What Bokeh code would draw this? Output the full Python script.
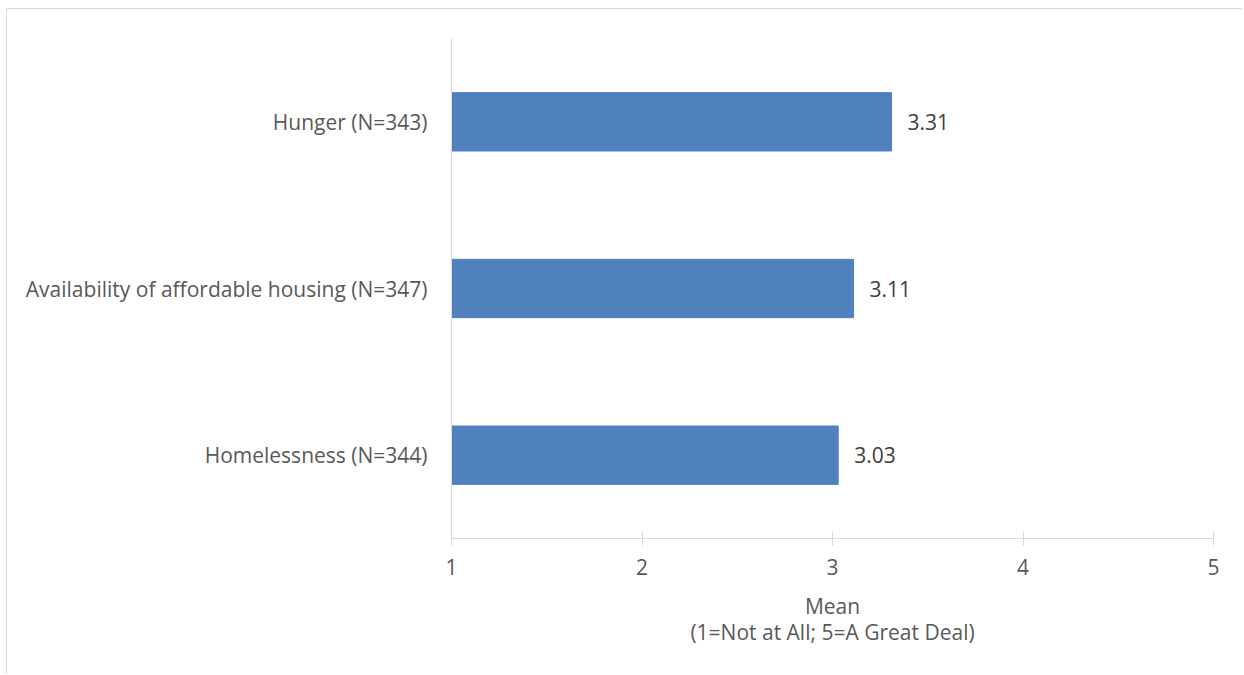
from bokeh.plotting import figure
from bokeh.models import Range1d, FactorRange, ColumnDataSource, FixedTicker
from bokeh.core.properties import value
from bokeh.embed import file_html
from bokeh.resources import INLINE

categories = ["Homelessness (N=344)", "Availability of affordable housing (N=347)", "Hunger (N=343)"]
means = [3.03, 3.11, 3.31]
x_ticks = [1, 2, 3, 4, 5]
x_title_lines = ["Mean", "(1=Not at All; 5=A Great Deal)"]

FONT = "Open Sans"
FS = "21px"
src = ColumnDataSource(dict(cat=categories, val=means, left=[1] * len(means),
                            lbl=[f"{v:.2f}" for v in means]))

p = figure(width=1236, height=666, output_backend="svg", toolbar_location=None,
           x_range=Range1d(1, 5), y_range=FactorRange(*categories))
p.min_border_left = 444
p.min_border_right = 30
p.min_border_top = 29
p.min_border_bottom = 137
p.outline_line_color = None
p.background_fill_color = "white"
p.border_fill_color = "white"
p.styles = {"border-left": "1px solid #d9d9d9", "border-top": "1px solid #d9d9d9",
            "margin-left": "6px", "margin-top": "8px"}
p.xgrid.visible = False
p.ygrid.visible = False

p.hbar(y="cat", left="left", right="val", height=0.35, source=src,
       fill_color="#4f81bd", line_color="#4f81bd")
p.text(x="val", y="cat", text="lbl", source=src, x_offset=16,
       text_baseline="middle", text_align="left", text_font=value(FONT),
       text_font_size=FS, text_color="#404040")

xa = p.xaxis[0]
xa.ticker = FixedTicker(ticks=x_ticks)
xa.axis_line_color = "#d9d9d9"
xa.major_tick_line_color = "#d9d9d9"
xa.major_tick_in = 7
xa.major_tick_out = 7
xa.minor_tick_line_color = None
xa.major_label_text_font = FONT
xa.major_label_text_font_size = FS
xa.major_label_text_color = "#595959"
xa.major_label_standoff = 13
xa.axis_label = "\n".join(x_title_lines)
xa.axis_label_text_font = FONT
xa.axis_label_text_font_size = FS
xa.axis_label_text_color = "#595959"
xa.axis_label_text_font_style = "normal"
xa.axis_label_standoff = 14
xa.axis_label_text_line_height = 0.95

ya = p.yaxis[0]
ya.axis_line_color = "#d9d9d9"
ya.major_tick_line_color = None
ya.minor_tick_line_color = None
ya.major_label_text_font = FONT
ya.major_label_text_font_size = FS
ya.major_label_text_color = "#595959"
ya.major_label_standoff = 18

open("out.html", "w").write(file_html(p, INLINE))
